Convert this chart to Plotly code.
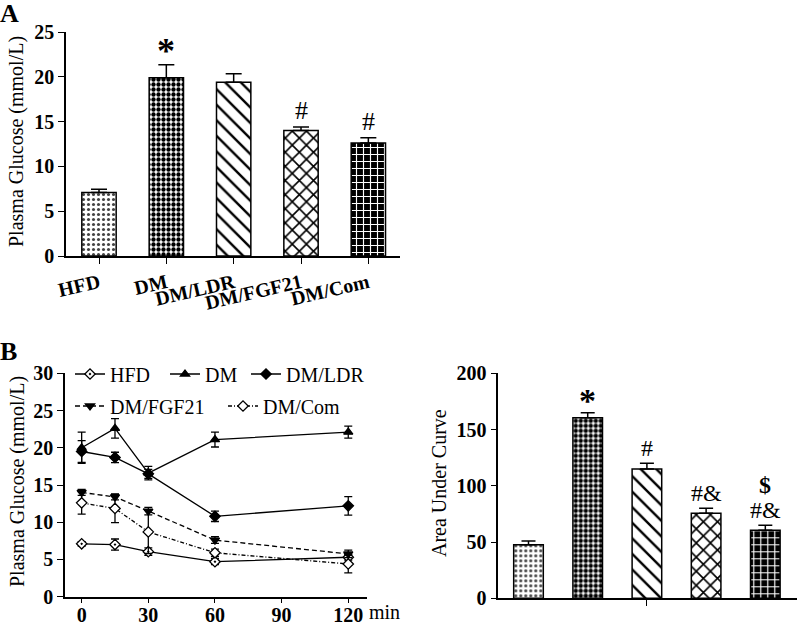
import plotly.graph_objects as go

# ---------------- data ----------------
groups = ["HFD", "DM", "DM/LDR", "DM/FGF21", "DM/Com"]

# Panel A: fasting plasma glucose (mmol/L)
glucose_A = [7.1, 19.9, 19.4, 14.0, 12.6]
glucose_A_err = [0.35, 1.45, 0.95, 0.4, 0.6]
sig_A = ["", "*", "", "#", "#"]

# Panel B: glucose tolerance time course
times = [0, 15, 30, 60, 120]
ogtt = {
    "HFD":      [7.1, 7.0, 6.05, 4.7, 5.3],
    "DM":       [20.0, 22.6, 16.6, 21.1, 22.1],
    "DM/LDR":   [19.5, 18.7, 16.5, 10.8, 12.2],
    "DM/FGF21": [14.0, 13.4, 11.5, 7.6, 5.75],
    "DM/Com":   [12.6, 11.85, 8.7, 5.9, 4.4],
}
ogtt_err = {
    "HFD":      [0.3, 0.75, 0.5, 0.4, 0.4],
    "DM":       [2.1, 1.3, 0.9, 1.0, 0.8],
    "DM/LDR":   [1.45, 0.7, 0.6, 0.7, 1.25],
    "DM/FGF21": [0.4, 0.4, 0.5, 0.45, 0.5],
    "DM/Com":   [1.5, 1.9, 2.9, 0.5, 1.2],
}

# Panel B right: area under curve
auc = [47.5, 160.5, 115.0, 75.5, 60.5]
auc_err = [3.5, 4.5, 5.0, 4.5, 4.5]
sig_auc = ["", "*", "#", "#&", "#&"]
sig_auc_top = ["", "", "", "", "$"]

# ---------------- styles ----------------
FONT = "Liberation Serif, Times New Roman, serif"
patterns = [
    dict(shape=".", fgcolor="#444444", bgcolor="white", size=5, solidity=0.3, fillmode="replace"),
    dict(shape=".", fgcolor="black", bgcolor="white", size=5, solidity=0.6, fillmode="replace"),
    dict(shape="\\", fgcolor="black", bgcolor="white", size=11, solidity=0.22, fillmode="replace"),
    dict(shape="x", fgcolor="black", bgcolor="white", size=10, solidity=0.3, fillmode="replace"),
    dict(shape="+", fgcolor="white", bgcolor="black", size=7, solidity=0.3, fillmode="replace"),
]
line_styles = {
    "HFD":      dict(symbol="diamond-dot", fill="white", dash="solid"),
    "DM":       dict(symbol="triangle-up", fill="black", dash="solid"),
    "DM/LDR":   dict(symbol="diamond", fill="black", dash="solid"),
    "DM/FGF21": dict(symbol="triangle-down", fill="black", dash="5px,3px"),
    "DM/Com":   dict(symbol="diamond", fill="white", dash="4px,2px,1px,2px"),
}
# legend entry placement (left px, row centre px)
legend_pos = {
    "HFD": (70, 374), "DM": (165, 374), "DM/LDR": (246, 374),
    "DM/FGF21": (70, 406), "DM/Com": (223, 406),
}

fig = go.Figure()

# Panel A bars
for i, g in enumerate(groups):
    fig.add_trace(go.Bar(
        x=[g], y=[glucose_A[i]], width=0.51,
        marker=dict(color="white", pattern=patterns[i], line=dict(color="black", width=1.5)),
        error_y=dict(type="data", symmetric=False, array=[glucose_A_err[i]], arrayminus=[0],
                     color="black", thickness=1.5, width=8),
        xaxis="x", yaxis="y", showlegend=False,
    ))

# Panel B line chart
legend_layouts = {}
for k, g in enumerate(groups):
    st = line_styles[g]
    leg = "legend" if k == 0 else f"legend{k + 1}"
    fig.add_trace(go.Scatter(
        x=times, y=ogtt[g], name=g, mode="lines+markers",
        line=dict(color="black", width=1.3, dash=st["dash"]),
        marker=dict(symbol=st["symbol"], size=8, color=st["fill"],
                    line=dict(color="black", width=1.3)),
        error_y=dict(type="data", array=ogtt_err[g], color="black", thickness=1.3, width=4),
        xaxis="x2", yaxis="y2", legend=leg,
    ))
    px, py = legend_pos[g]
    legend_layouts[leg] = dict(x=px / 798, y=1 - py / 624, xanchor="left", yanchor="middle",
                               orientation="h", bgcolor="rgba(0,0,0,0)",
                               font=dict(family=FONT, size=20, color="black"), itemwidth=30)

# Panel B AUC bars
for i, g in enumerate(groups):
    fig.add_trace(go.Bar(
        x=[g], y=[auc[i]], width=0.5,
        marker=dict(color="white", pattern=patterns[i], line=dict(color="black", width=1.5)),
        error_y=dict(type="data", symmetric=False, array=[auc_err[i]], arrayminus=[0],
                     color="black", thickness=1.5, width=7),
        xaxis="x3", yaxis="y3", showlegend=False,
    ))

# significance marks
annotations = []
for i, g in enumerate(groups):
    if sig_A[i]:
        star = sig_A[i] == "*"
        annotations.append(dict(
            x=g, y=glucose_A[i] + glucose_A_err[i], xref="x", yref="y", text=sig_A[i],
            showarrow=False, yanchor="bottom", yshift=-8 if star else 0,
            font=dict(family=FONT, size=36 if star else 26, color="black", weight=700 if star else 400)))
    if sig_auc[i]:
        star = sig_auc[i] == "*"
        annotations.append(dict(
            x=g, y=auc[i] + auc_err[i], xref="x3", yref="y3", text=sig_auc[i],
            showarrow=False, yanchor="bottom", yshift=-8 if star else 0,
            font=dict(family=FONT, size=34 if star else 24, color="black", weight=700 if star else 400)))
    if sig_auc_top[i]:
        annotations.append(dict(
            x=g, y=auc[i] + auc_err[i], xref="x3", yref="y3", text=sig_auc_top[i],
            showarrow=False, yanchor="bottom", yshift=25,
            font=dict(family=FONT, size=24, color="black", weight=700)))

title_font = dict(family=FONT, size=20, color="black")
annotations += [
    dict(x=0.0, y=1.0, xref="paper", yref="paper", text="A", showarrow=False, xshift=-2,
         xanchor="left", yanchor="top", yshift=3, font=dict(family=FONT, size=26, color="black", weight=700)),
    dict(x=0.0, y=1 - 335 / 624, xref="paper", yref="paper", text="B", showarrow=False, xshift=-2,
         xanchor="left", yanchor="top", font=dict(family=FONT, size=26, color="black", weight=700)),
    dict(x=367 / 798, y=1 - 612 / 624, xref="paper", yref="paper", text="min", showarrow=False,
         xanchor="left", yanchor="middle", font=dict(family=FONT, size=20, color="black")),
    dict(x=17 / 798, y=1 - 142 / 624, xref="paper", yref="paper", text="Plasma Glucose (mmol/L)",
         textangle=-90, showarrow=False, xanchor="center", yanchor="middle", font=title_font),
    dict(x=17 / 798, y=1 - 482 / 624, xref="paper", yref="paper", text="Plasma Glucose (mmol/L)",
         textangle=-90, showarrow=False, xanchor="center", yanchor="middle", font=title_font),
    dict(x=439 / 798, y=1 - 483 / 624, xref="paper", yref="paper", text="Area Under Curve",
         textangle=-90, showarrow=False, xanchor="center", yanchor="middle", font=title_font),
]

axis_common = dict(showline=True, linecolor="black", linewidth=1.5, ticks="outside", ticklen=6,
                   tickwidth=1.3, tickcolor="black", showgrid=False, zeroline=False, automargin=False,
                   tickfont=dict(family=FONT, size=20, color="black", weight=700))

fig.update_layout(
    width=798, height=624, margin=dict(l=0, r=0, t=0, b=0, autoexpand=False),
    paper_bgcolor="white", plot_bgcolor="white", barmode="overlay",
    font=dict(family=FONT, color="black"),
    xaxis=dict(domain=[66 / 798, 400 / 798], anchor="y", type="category", categoryorder="array",
               categoryarray=groups, range=[-0.49, 4.47], tickangle=-13, **axis_common),
    yaxis=dict(domain=[1 - 256 / 624, 1 - 32 / 624], anchor="x", range=[0, 25], dtick=5, **axis_common),
    xaxis2=dict(domain=[65 / 798, 366.7 / 798], anchor="y2", range=[-7.5, 128.3],
                tickvals=[0, 30, 60, 90, 120], ticklabelstandoff=-5, **{**axis_common, "ticklen": 5}),
    yaxis2=dict(domain=[1 - 596.7 / 624, 1 - 373.3 / 624], anchor="x2", range=[0, 30], dtick=5,
                **axis_common),
    xaxis3=dict(domain=[498.3 / 798, 796.7 / 798], anchor="y3", type="category", categoryorder="array",
                categoryarray=groups, range=[-0.51, 4.53], tickvals=[groups[2]], ticktext=[""],
                **axis_common),
    yaxis3=dict(domain=[1 - 598.3 / 624, 1 - 373.3 / 624], anchor="x3", range=[0, 200], dtick=50,
                **axis_common),
    annotations=annotations,
    **legend_layouts,
)

fig.write_html("out.html", config={"displayModeBar": False},
               post_script="document.body.style.margin='0';document.body.style.padding='0';")
